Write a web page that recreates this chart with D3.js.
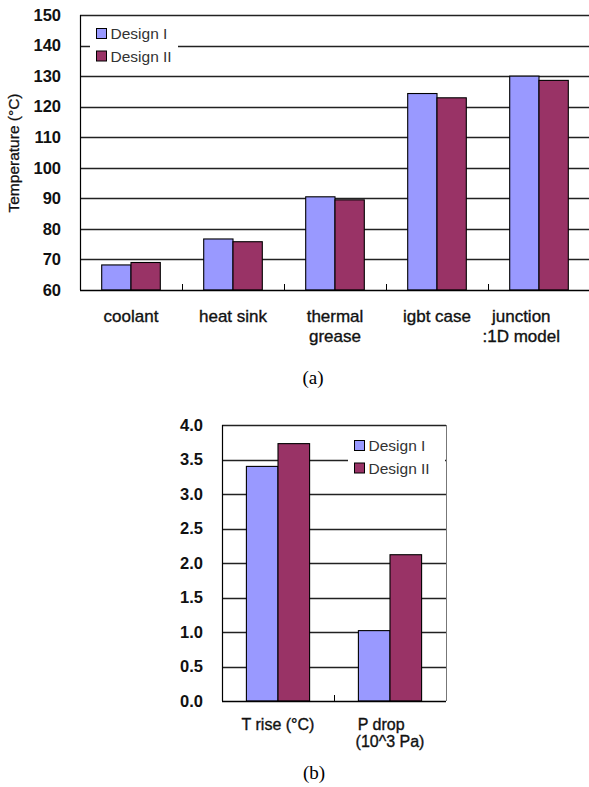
<!DOCTYPE html>
<html>
<head>
<meta charset="utf-8">
<script src="https://cdn.jsdelivr.net/npm/d3@7"></script>
<style>
  body { margin: 0; background: #fff; }
  svg { display: block; font-family: "Liberation Sans", Arial, sans-serif; }
  .xlab text { white-space: pre; }
</style>
</head>
<body>
<svg id="chart" width="589" height="787"></svg>
<script>
// series
const series = ["Design I", "Design II"];
const colors = ["#9999ff", "#993366"];

// (a) temperatures
const tempCats = ["coolant", "heat sink", "thermal\ngrease", "igbt case", "junction\n:1D model"];
const tempD1 = [68.2, 76.7, 90.5, 124.3, 130.0];
const tempD2 = [69.0, 75.8, 89.5, 122.9, 128.6];
const tempTicks = [60, 70, 80, 90, 100, 110, 120, 130, 140, 150];

// (b) temperature rise / pressure drop
const perfCats = ["T rise (°C)", "P drop    \n(10^3 Pa)"];
const perfD1 = [3.40, 1.02];
const perfD2 = [3.73, 2.12];
const perfTicks = [0, 0.5, 1.0, 1.5, 2.0, 2.5, 3.0, 3.5, 4.0];

const svg = d3.select("#chart");

function panel(o) {
  const g = svg.append("g");
  const x0 = d3.scaleBand().domain(o.cats).range([o.left, o.right]);
  const x1 = d3.scaleBand().domain(series).range([o.barOff, x0.bandwidth() - o.barOff]);
  const y = d3.scaleLinear().domain([o.ticks[0], o.ticks[o.ticks.length - 1]]).range([o.bottom, o.top]);

  // grid lines
  g.append("g")
    .selectAll("line")
    .data(o.ticks.slice(1))
    .join("line")
    .attr("x1", o.left).attr("x2", o.right)
    .attr("y1", d => Math.round(y(d)) + 0.5).attr("y2", d => Math.round(y(d)) + 0.5)
    .attr("stroke", "#222").attr("stroke-width", 1.3);

  if (o.frame) {
    g.append("line")
      .attr("x1", o.right + 0.5).attr("x2", o.right + 0.5)
      .attr("y1", o.top).attr("y2", o.bottom)
      .attr("stroke", "#777");
  }

  // y tick labels
  const ya = g.append("g")
    .attr("transform", `translate(${o.left},0)`)
    .call(d3.axisLeft(y).tickValues(o.ticks).tickSize(0).tickPadding(19).tickFormat(o.fmt));
  ya.select(".domain").remove();
  ya.selectAll("text")
    .attr("font-family", "Liberation Sans, Arial, sans-serif")
    .attr("font-size", 16.5).attr("font-weight", "bold").attr("fill", "#111");

  // bars
  const rows = o.cats.map((c, i) => ({ c, v: [o.d1[i], o.d2[i]] }));
  g.append("g")
    .selectAll("g")
    .data(rows)
    .join("g")
    .attr("transform", d => `translate(${x0(d.c)},0)`)
    .selectAll("rect")
    .data(d => d.v.map((v, k) => ({ s: series[k], v, k })))
    .join("rect")
    .attr("x", d => x1(d.s))
    .attr("y", d => y(d.v))
    .attr("width", x1.bandwidth())
    .attr("height", d => o.bottom - y(d.v))
    .attr("fill", d => colors[d.k])
    .attr("stroke", "#000").attr("stroke-width", 1.1);

  // axes lines
  g.append("line")
    .attr("x1", o.left + 0.5).attr("x2", o.left + 0.5)
    .attr("y1", o.top).attr("y2", o.bottom)
    .attr("stroke", "#000").attr("stroke-width", 1.2);
  g.append("line")
    .attr("x1", o.left).attr("x2", o.right)
    .attr("y1", o.bottom + 0.5).attr("y2", o.bottom + 0.5)
    .attr("stroke", "#000").attr("stroke-width", 1.4);

  // category separators
  g.append("g")
    .selectAll("line")
    .data(o.cats.slice(1))
    .join("line")
    .attr("x1", d => Math.round(x0(d)) + 0.5).attr("x2", d => Math.round(x0(d)) + 0.5)
    .attr("y1", o.bottom).attr("y2", o.bottom - 6)
    .attr("stroke", "#000");

  // category labels
  const xl = g.append("g").attr("class", "xlab");
  o.cats.forEach(c => {
    const t = xl.append("text")
      .attr("text-anchor", "middle")
      .attr("font-size", o.labelSize)
      .attr("fill", "#111")
      .attr("stroke", "#111").attr("stroke-width", 0.35);
    c.split("\n").forEach((line, i) => {
      t.append("tspan")
        .attr("x", x0(c) + x0.bandwidth() / 2)
        .attr("y", o.labelY + i * o.lineH)
        .text(line);
    });
    // keep the last label inside the chart edge
    const bb = t.node().getBBox();
    if (bb.x + bb.width > o.labelMax) {
      t.attr("transform", `translate(${o.labelMax - bb.x - bb.width},0)`);
    }
  });

  // legend
  const lg = g.append("g").attr("transform", `translate(${o.leg[0]},${o.leg[1]})`);
  lg.append("rect")
    .attr("x", 0).attr("y", 0)
    .attr("width", o.leg[2]).attr("height", 46)
    .attr("fill", "#fff");
  series.forEach((s, k) => {
    lg.append("rect")
      .attr("x", 6.5).attr("y", 7.5 + k * 22.5)
      .attr("width", 10).attr("height", 10)
      .attr("fill", colors[k]).attr("stroke", "#000");
    lg.append("text")
      .attr("x", 20.5).attr("y", 18 + k * 22.5)
      .attr("font-size", 15.5).attr("fill", "#333")
      .text(s);
  });

  // caption
  svg.append("text")
    .attr("x", o.cap[0]).attr("y", o.cap[1])
    .attr("text-anchor", "middle")
    .attr("font-family", "Liberation Serif, Times New Roman, serif")
    .attr("font-size", 19)
    .text(o.capText);

  return g;
}

panel({
  cats: tempCats, d1: tempD1, d2: tempD2, ticks: tempTicks,
  fmt: d3.format("d"),
  left: 80, right: 590, top: 15, bottom: 290,
  barOff: 21.7, frame: false,
  labelSize: 17, labelY: 322, lineH: 20, labelMax: 560,
  leg: [90, 21, 88],
  cap: [313, 384], capText: "(a)"
});

panel({
  cats: perfCats, d1: perfD1, d2: perfD2, ticks: perfTicks,
  fmt: d3.format(".1f"),
  left: 222, right: 446, top: 425, bottom: 701,
  barOff: 24.4, frame: true,
  labelSize: 16, labelY: 730, lineH: 17, labelMax: 589,
  leg: [348, 433, 97],
  cap: [314, 779], capText: "(b)"
});

// y title for (a)
svg.append("text")
  .attr("transform", "translate(19,153) rotate(-90)")
  .attr("text-anchor", "middle")
  .attr("font-size", 15.5)
  .attr("fill", "#111")
  .attr("stroke", "#111").attr("stroke-width", 0.3)
  .text("Temperature (°C)");
</script>
</body>
</html>
